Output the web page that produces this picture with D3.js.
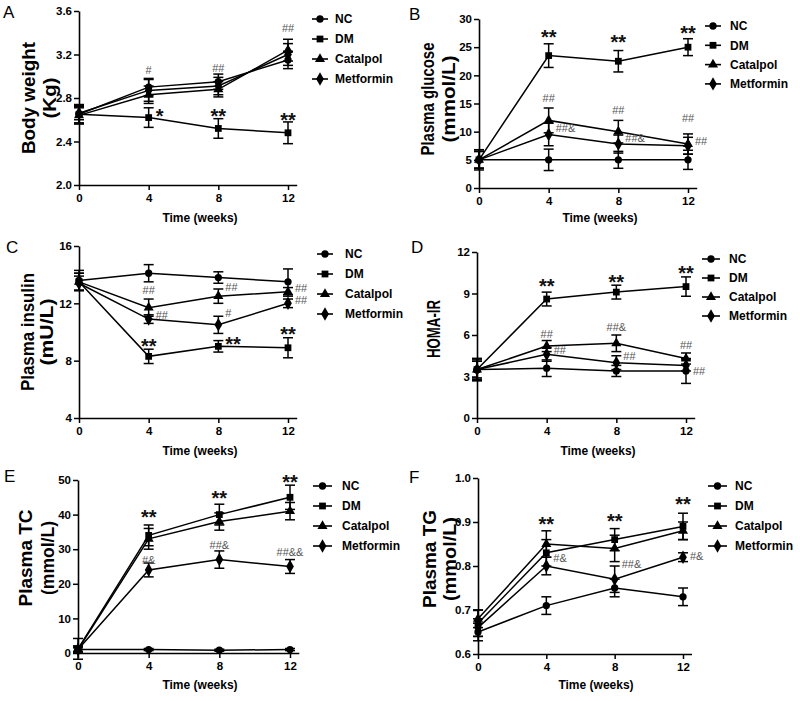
<!DOCTYPE html>
<html><head><meta charset="utf-8">
<script src="https://cdn.jsdelivr.net/npm/d3@7"></script>
<style>
body{margin:0;background:#fff;}
svg text{font-family:Arial,"Liberation Sans",Helvetica,sans-serif;}
</style>
</head><body>
<svg id="chart" width="800" height="701"></svg>
<script>
// ---------------- data ----------------
const weeks = [0, 4, 8, 12];
const groups = ["NC", "DM", "Catalpol", "Metformin"];

// Body weight (kg): rows = NC, DM, Catalpol, Metformin
const weightMean = [[2.65, 2.90, 2.95, 3.15], [2.65, 2.62, 2.52, 2.48], [2.64, 2.83, 2.88, 3.24], [2.66, 2.87, 2.91, 3.20]];
const weightErr  = [[0.08, 0.08, 0.07, 0.08], [0.09, 0.09, 0.09, 0.10], [0.07, 0.08, 0.07, 0.10], [0.06, 0.10, 0.08, 0.10]];
const weightTicks = [2.0, 2.4, 2.8, 3.2, 3.6];
const weightNotes = [[4, 3.06, "#", "c"], [8, 3.08, "##", "c"], [12, 3.44, "##", "c"], [4, 2.67, "*", "r"], [8, 2.67, "**", "c"], [12, 2.63, "**", "c"]];

// Plasma glucose (mmol/L)
const glucoseMean = [[5, 5, 5, 5], [5, 23.5, 22.5, 25], [5, 12, 10, 7.8], [5, 9.5, 7.8, 7.5]];
const glucoseErr  = [[1.5, 1.9, 1.5, 1.7], [1.8, 2.1, 1.9, 1.5], [1.5, 2.2, 2.0, 1.8], [1.5, 2.0, 1.6, 1.5]];
const glucoseTicks = [0, 5, 10, 15, 20, 25, 30];
const glucoseNotes = [[4, 27.5, "**", "c"], [8, 26.6, "**", "c"], [12, 28.2, "**", "c"], [4, 16.0, "##", "c"], [4, 10.65, "##&", "r"], [8, 13.8, "##", "c"], [8, 8.9, "##&", "r"], [12, 12.4, "##", "c"], [12, 8.3, "##", "r"]];

// Plasma insulin (mU/L)
const insulinMean = [[13.6, 14.1, 13.8, 13.5], [13.5, 8.3, 9.0, 8.9], [13.5, 11.7, 12.5, 12.8], [13.4, 10.9, 10.5, 12.0]];
const insulinErr  = [[0.7, 0.6, 0.4, 0.9], [0.6, 0.5, 0.4, 0.7], [0.6, 0.6, 0.5, 0.3], [0.5, 0.3, 0.6, 0.3]];
const insulinTicks = [4, 8, 12, 16];
const insulinNotes = [[4, 12.93, "##", "c"], [4, 11.18, "##", "r"], [8, 13.14, "##", "r"], [8, 11.32, "#", "r"], [12, 13.07, "##", "r"], [12, 12.23, "##", "r"], [4, 9.3, "**", "c"], [8, 9.44, "**", "r"], [12, 10.14, "**", "c"]];

// HOMA-IR
const homaMean = [[3.5, 3.6, 3.4, 3.4], [3.5, 8.6, 9.1, 9.5], [3.5, 5.2, 5.4, 4.3], [3.5, 4.6, 4.0, 3.8]];
const homaErr  = [[0.8, 0.6, 0.4, 0.9], [0.8, 0.5, 0.5, 0.7], [0.7, 0.4, 0.6, 0.4], [0.6, 0.5, 0.5, 0.4]];
const homaTicks = [0, 3, 6, 9, 12];
const homaNotes = [[4, 9.83, "**", "c"], [8, 10.12, "**", "c"], [12, 10.77, "**", "c"], [4, 6.07, "##", "c"], [4, 4.91, "##", "r"], [8, 6.58, "##&", "c"], [8, 4.48, "##", "r"], [12, 5.28, "##", "c"], [12, 3.4, "##", "r"]];

// Plasma TC (mmol/L)
const tcMean = [[1, 1.0, 0.8, 1.0], [1.2, 34, 40, 45], [1, 33, 38, 41], [1, 24, 27, 25]];
const tcErr  = [[0.5, 0.3, 0.3, 0.3], [3, 3, 3, 3.5], [1, 3, 2.5, 2.5], [1, 2, 2.5, 2]];
const tcTicks = [0, 10, 20, 30, 40, 50];
const tcNotes = [[4, 40.5, "**", "c"], [8, 46, "**", "c"], [12, 50.6, "**", "c"], [4, 26.9, "#&", "c"], [8, 31.2, "##&", "c"], [12, 29.2, "##&&", "c"]];

// Plasma TG (mmol/L)
const tgMean = [[0.65, 0.71, 0.75, 0.73], [0.67, 0.83, 0.86, 0.89], [0.68, 0.85, 0.84, 0.88], [0.66, 0.80, 0.77, 0.82]];
const tgErr  = [[0.02, 0.02, 0.02, 0.02], [0.03, 0.03, 0.025, 0.03], [0.02, 0.03, 0.03, 0.02], [0.02, 0.02, 0.03, 0.01]];
const tgTicks = [0.6, 0.7, 0.8, 0.9, 1.0];
const tgNotes = [[4, 0.9045, "**", "c"], [8, 0.911, "**", "c"], [12, 0.95, "**", "c"], [4, 0.818, "#&", "r"], [8, 0.805, "##&", "r"], [12, 0.823, "#&", "r"]];

// ---------------- layout ----------------
const panels = [
  {letter: "A", lx: 3, ly: 18, x0: 79, x12: 288, yTop: 11, yBot: 185, mean: weightMean, err: weightErr, ticks: weightTicks, fmt: d3.format(".1f"), notes: weightNotes,
   titles: [["Body weight", 30, 112], ["(Kg)", 51, 41]], titleY: 98, timeX: 200, timeY: 222,
   legend: {a: 312, b: 328, t: 335, y0: 19, dy: 20}},
  {letter: "B", lx: 409, ly: 20, x0: 479, x12: 688, yTop: 19, yBot: 188, mean: glucoseMean, err: glucoseErr, ticks: glucoseTicks, fmt: d3.format("d"), notes: glucoseNotes,
   titles: [["Plasma glucose", 429, 113], ["(mmol/L)", 450, 87]], titleY: 99, timeX: 600, timeY: 222,
   legend: {a: 705, b: 721, t: 730, y0: 26, dy: 19.3}},
  {letter: "C", lx: 6, ly: 253, x0: 79, x12: 288, yTop: 246, yBot: 418, mean: insulinMean, err: insulinErr, ticks: insulinTicks, fmt: d3.format("d"), notes: insulinNotes,
   titles: [["Plasma insulin", 29, 118], ["(mU/L)", 48, 67]], titleY: 332, timeX: 200, timeY: 455,
   legend: {a: 317, b: 333, t: 345, y0: 254, dy: 20}},
  {letter: "D", lx: 411, ly: 253, x0: 477, x12: 686, yTop: 252, yBot: 418, mean: homaMean, err: homaErr, ticks: homaTicks, fmt: d3.format("d"), notes: homaNotes,
   titles: [["HOMA-IR", 435, 58]], titleY: 329, timeX: 598, timeY: 455,
   legend: {a: 702, b: 720, t: 729, y0: 259, dy: 19}},
  {letter: "E", lx: 4, ly: 482, x0: 78, x12: 290, yTop: 480, yBot: 653, mean: tcMean, err: tcErr, ticks: tcTicks, fmt: d3.format("d"), notes: tcNotes,
   titles: [["Plasma TC", 27, 97], ["(mmol/L)", 49, 74]], titleY: 558, timeX: 200, timeY: 689,
   legend: {a: 313, b: 332, t: 342, y0: 486, dy: 20}},
  {letter: "F", lx: 409, ly: 483, x0: 478, x12: 683, yTop: 478, yBot: 654, mean: tgMean, err: tgErr, ticks: tgTicks, fmt: d3.format(".1f"), notes: tgNotes,
   titles: [["Plasma TG", 431, 98], ["(mmol/L)", 451, 84]], titleY: 559, timeX: 596, timeY: 689,
   legend: {a: 708, b: 727, t: 735, y0: 486, dy: 20}}
];

const symbolTypes = [d3.symbolCircle, d3.symbolSquare, d3.symbolTriangle, d3.symbolDiamond];
const symbolSizes = [42, 46, 44, 52];
const svg = d3.select("#chart");

function drawPanel(p) {
  const g = svg.append("g");
  const x = d3.scaleLinear().domain([0, 12.5]).range([p.x0, p.x0 + (p.x12 - p.x0) * 12.5 / 12]);
  const y = d3.scaleLinear().domain([p.ticks[0], p.ticks[p.ticks.length - 1]]).range([p.yBot, p.yTop]);

  // panel letter
  g.append("text").attr("x", p.lx).attr("y", p.ly).attr("font-size", 17).text(p.letter);

  // axes
  const xa = g.append("g").attr("transform", `translate(0,${p.yBot})`)
    .call(d3.axisBottom(x).tickValues(weeks).tickSize(5).tickSizeOuter(0).tickPadding(4));
  const ya = g.append("g").attr("transform", `translate(${p.x0},0)`)
    .call(d3.axisLeft(y).tickValues(p.ticks).tickFormat(p.fmt).tickSize(5).tickSizeOuter(0).tickPadding(2));
  [xa, ya].forEach(a => {
    a.select(".domain").attr("stroke", "#000").attr("stroke-width", 1.6);
    a.selectAll(".tick line").attr("stroke", "#000").attr("stroke-width", 1.5);
    a.selectAll(".tick text").attr("font-size", 11.5).attr("font-weight", "bold").attr("fill", "#000")
      .attr("font-family", "Arial, 'Liberation Sans', sans-serif");
  });

  // axis titles
  p.titles.forEach(([txt, cx, len]) => {
    g.append("text")
      .attr("transform", `translate(${cx + 5},${p.titleY}) rotate(-90)`)
      .attr("text-anchor", "middle").attr("font-size", 17.5).attr("font-weight", "bold")
      .attr("textLength", len).attr("lengthAdjust", "spacingAndGlyphs")
      .text(txt);
  });
  g.append("text").attr("x", p.timeX).attr("y", p.timeY).attr("text-anchor", "middle")
    .attr("font-size", 12).attr("font-weight", "bold").text("Time (weeks)");

  // series
  const line = d3.line().x((d, i) => x(weeks[i])).y(d => y(d));
  p.mean.forEach((vals, gi) => {
    g.append("path").attr("d", line(vals)).attr("fill", "none").attr("stroke", "#000").attr("stroke-width", 1.5);
  });
  p.mean.forEach((vals, gi) => {
    vals.forEach((v, i) => {
      const e = p.err[gi][i];
      const cx = x(weeks[i]);
      const lo = y(v - e), hi = y(v + e);
      g.append("line").attr("x1", cx).attr("x2", cx).attr("y1", lo).attr("y2", hi).attr("stroke", "#000").attr("stroke-width", 1.5);
      [lo, hi].forEach(yy => g.append("line").attr("x1", cx - 5).attr("x2", cx + 5).attr("y1", yy).attr("y2", yy).attr("stroke", "#000").attr("stroke-width", 1.5));
    });
  });
  p.mean.forEach((vals, gi) => {
    vals.forEach((v, i) => {
      g.append("path").attr("d", d3.symbol().type(symbolTypes[gi]).size(symbolSizes[gi])())
        .attr("transform", `translate(${x(weeks[i])},${y(v)})`).attr("fill", "#000");
    });
  });

  // significance annotations
  p.notes.forEach(([wk, val, txt, place]) => {
    const star = txt.indexOf("*") >= 0;
    const t = g.append("text")
      .attr("x", place === "c" ? x(wk) : x(wk) + 7)
      .attr("y", y(val) + (star ? 11 : 4))
      .attr("text-anchor", place === "c" ? "middle" : "start")
      .text(txt);
    if (star) t.attr("font-size", 20).attr("font-weight", "bold").attr("fill", "#111");
    else t.attr("font-size", 11).attr("fill", "#555");
  });

  // legend
  const L = p.legend;
  groups.forEach((name, gi) => {
    const yy = L.y0 + gi * L.dy;
    g.append("line").attr("x1", L.a).attr("x2", L.b).attr("y1", yy).attr("y2", yy).attr("stroke", "#000").attr("stroke-width", 1.6);
    g.append("path").attr("d", d3.symbol().type(symbolTypes[gi]).size(symbolSizes[gi])())
      .attr("transform", `translate(${(L.a + L.b) / 2},${yy})`).attr("fill", "#000");
    g.append("text").attr("x", L.t).attr("y", yy).attr("dy", "0.36em").attr("font-size", 12).attr("font-weight", "bold").text(name);
  });
}

panels.forEach(drawPanel);
</script>
</body></html>
